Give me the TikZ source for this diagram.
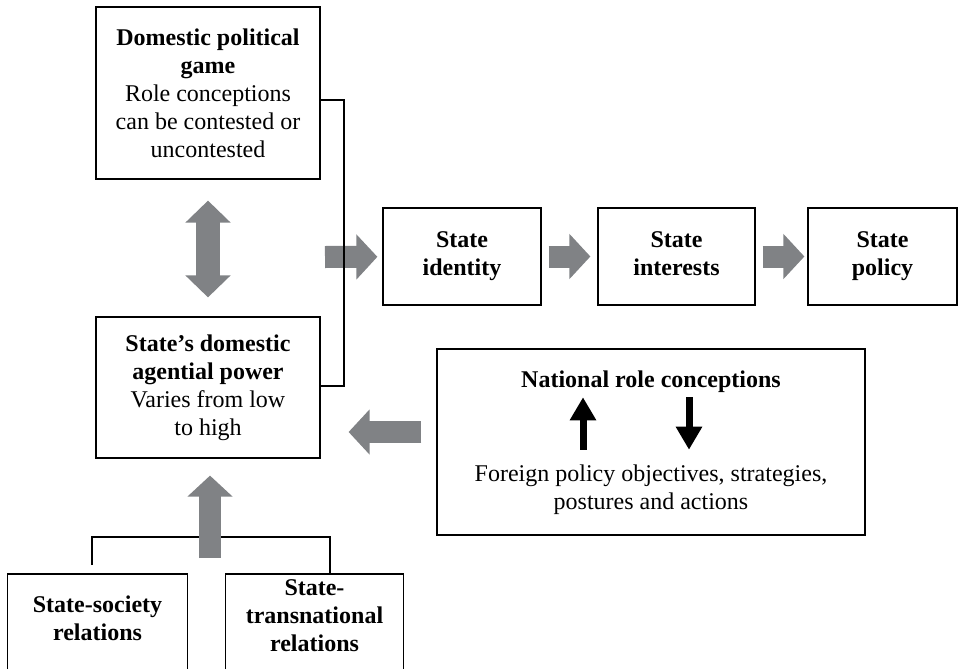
\documentclass[tikz,border=0pt]{standalone}
\usepackage{fontspec}
\setmainfont{Liberation Serif}
\usetikzlibrary{arrows.meta}
\definecolor{arrowgray}{RGB}{128,130,133}
\tikzset{
  box/.style={draw, line width=0.6pt, align=center, font=\fontsize{12}{14}\selectfont},
  txt/.style={align=center, inner sep=0pt, font=\fontsize{12}{14}\selectfont},
  boldtxt/.style={txt, font=\fontsize{12}{14}\selectfont\bfseries},
  boxline/.style={line width=0.6pt},
  bracket/.style={line width=1.3pt},
  bigarrow/.style={draw=arrowgray, line width=11pt, -{Triangle[width=22pt,length=10.5pt]}},
  bigdouble/.style={draw=arrowgray, line width=12pt, {Triangle[width=22pt,length=11pt]}-{Triangle[width=22pt,length=11pt]}},
  smallarrow/.style={line width=3.5pt, -{Triangle[width=12.5pt,length=11.5pt]}}
}

\begin{document}
\begin{tikzpicture}[x=0.5pt,y=-0.5pt]
\useasboundingbox (0,0) rectangle (958,669);
\node[box, minimum width=112pt, minimum height=86pt] (dpg) at (208,93)
  {\textbf{Domestic political}\\\textbf{game}\\Role conceptions\\can be contested or\\uncontested};
\node[box, minimum width=112pt, minimum height=70.5pt] (sdp) at (208,387.5)
  {\textbf{State’s domestic}\\\textbf{agential power}\\Varies from low\\to high};
\foreach \nm/\xc/\bw/\lbl in {id/462/79pt/identity, intr/676.5/78.5pt/interests, pol/882.5/74.5pt/policy}
  \node[box, minimum width=\bw, minimum height=48.5pt] (\nm) at (\xc,256.5) {\textbf{State}\\\textbf{\lbl}\vphantom{y}};
\draw[bigarrow, shorten <=3.5pt, shorten >=3.5pt] (id) -- (intr);
\draw[bigarrow, shorten <=3.5pt, shorten >=1.5pt] (intr) -- (pol);
\coordinate (brk) at (344,257);
\coordinate (brtop) at (344,100);
\coordinate (brbot) at (344,386);
\draw[bigarrow, shorten >=2.5pt] ([xshift=-9.5pt]brk) -- (id);
\draw[bracket] (dpg.east |- brtop) -- (brtop) -- (brbot) -- (sdp.east |- brbot);
\draw[bigdouble, shorten <=10.5pt, shorten >=9.5pt] (dpg) -- (sdp);
\node[box, minimum width=214pt, minimum height=93pt] (nrc) at (651,442) {};
\node[boldtxt] (nrct) at (651,382) {National role conceptions};
\node[txt] (fpo) at (651,490) {Foreign policy objectives, strategies,\\postures and actions};
\coordinate (upx) at (583,0);
\coordinate (dnx) at (689,0);
\draw[smallarrow, shorten <=7.5pt, shorten >=2pt] (upx |- fpo.north) -- (upx |- nrct.south);
\draw[smallarrow, shorten <=2pt, shorten >=7.5pt] (dnx |- nrct.south) -- (dnx |- fpo.north);
\coordinate (la) at (0,432);
\draw[bigarrow, shorten <=7.5pt, shorten >=14pt] (nrc.west |- la) -- (sdp.east |- la);
\coordinate (bot) at (0,669);
\coordinate (btop) at (0,574);
\node[boldtxt, minimum width=89.5pt] (ss) at (97.5,618) {State-society\\relations};
\node[boldtxt, minimum width=88.5pt] (st) at (314.5,616) {State-\\transnational\\relations};
\draw[boxline] (ss.west |- bot) |- (ss.east |- btop) -- (ss.east |- bot);
\draw[boxline] (st.west |- bot) |- (st.east |- btop) -- (st.east |- bot);
\coordinate (lfoot) at (92,565);
\coordinate (jr) at (330,537);
\draw[bracket] (lfoot) |- (jr) -- (jr |- btop);
\coordinate (upfoot) at (210,558);
\draw[bigarrow, shorten >=8.5pt] (upfoot) -- (sdp.south -| upfoot);
\end{tikzpicture}
\end{document}
